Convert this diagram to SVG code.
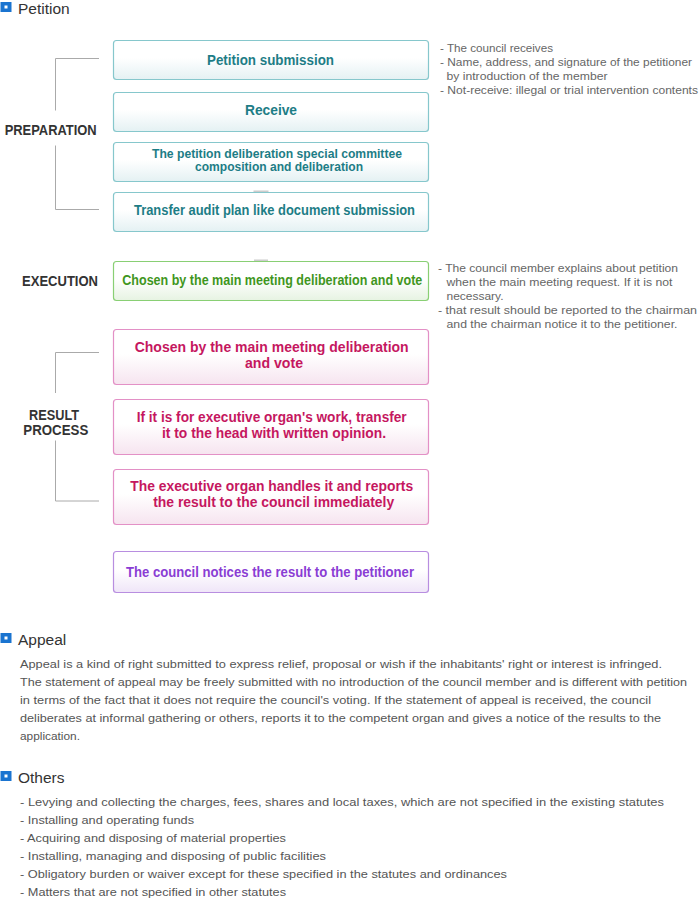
<svg xmlns="http://www.w3.org/2000/svg" width="700" height="900" viewBox="0 0 700 900">
<defs>
<linearGradient id="gT" x1="0" y1="0" x2="0" y2="1"><stop offset="0.45" stop-color="#ffffff"/><stop offset="1" stop-color="#e4f1f3"/></linearGradient>
<linearGradient id="gG" x1="0" y1="0" x2="0" y2="1"><stop offset="0.45" stop-color="#ffffff"/><stop offset="1" stop-color="#e6f3e2"/></linearGradient>
<linearGradient id="gP" x1="0" y1="0" x2="0" y2="1"><stop offset="0.45" stop-color="#ffffff"/><stop offset="1" stop-color="#f6e4ef"/></linearGradient>
<linearGradient id="gV" x1="0" y1="0" x2="0" y2="1"><stop offset="0.45" stop-color="#ffffff"/><stop offset="1" stop-color="#efe5f8"/></linearGradient>
</defs>
<style>
.box{stroke-width:1.2}
.teal{fill:url(#gT);stroke:#86c7cc}
.green{fill:url(#gG);stroke:#89cf74}
.pink{fill:url(#gP);stroke:#e390c6}
.violet{fill:url(#gV);stroke:#b88ee0}
.bt{font-family:"Liberation Sans",Arial,sans-serif;font-weight:bold;text-anchor:middle}
.tt{fill:#1d7d86;font-size:14px}
.gt{fill:#3f9621;font-size:14px}
.pt{fill:#c5175f;font-size:15px}
.vt{fill:#8a3dd4;font-size:15px}
.lab{font-family:"Liberation Sans",Arial,sans-serif;font-weight:bold;font-size:14px;fill:#333;text-anchor:middle}
.note{font-family:"Liberation Sans",Arial,sans-serif;font-size:11.5px;fill:#666}
.body{font-family:"Liberation Sans",Arial,sans-serif;font-size:11.5px;fill:#555}
.head{font-family:"Liberation Sans",Arial,sans-serif;font-size:15.5px;fill:#333}
.br{fill:none;stroke:#aaaaaa;stroke-width:1}
.tab{fill:#cccccc}
.ico{fill:#1a74d0}
.icw{fill:#ffffff}
</style>

<g id="header-petition">
<rect class="ico" x="0.5" y="2" width="11" height="10"/>
<rect class="icw" x="4.5" y="5.5" width="3" height="3"/>
<text class="head" x="18" y="13.5">Petition</text>
</g>

<g id="connectors">
<polyline class="br" points="99,58.5 55.5,58.5 55.5,110.5"/>
<polyline class="br" points="55.5,145.5 55.5,209.5 99,209.5"/>
<polyline class="br" points="99,352.5 55.5,352.5 55.5,393"/>
<polyline class="br" points="55.5,440.5 55.5,501 99,501"/>
<rect class="tab" x="253.5" y="190.5" width="15" height="2"/>
<rect class="tab" x="254" y="259.5" width="14" height="2"/>
</g>

<g id="label-preparation"><text class="lab" x="50.7" y="134.5" textLength="92" lengthAdjust="spacingAndGlyphs">PREPARATION</text></g>
<g id="label-execution"><text class="lab" x="60" y="285.5" textLength="76" lengthAdjust="spacingAndGlyphs">EXECUTION</text></g>
<g id="label-result">
<text class="lab" x="54" y="420" textLength="50" lengthAdjust="spacingAndGlyphs">RESULT</text>
<text class="lab" x="55.8" y="435" textLength="65" lengthAdjust="spacingAndGlyphs">PROCESS</text>
</g>

<g id="node-petition-submission">
<rect class="box teal" x="113.5" y="40.5" width="315" height="39" rx="3"/>
<text class="bt tt" x="270.5" y="64.5" textLength="127" lengthAdjust="spacingAndGlyphs">Petition submission</text>
</g>
<g id="node-receive">
<rect class="box teal" x="113.5" y="92.5" width="315" height="39" rx="3"/>
<text class="bt tt" x="271" y="114.5" textLength="52" lengthAdjust="spacingAndGlyphs">Receive</text>
</g>
<g id="node-committee">
<rect class="box teal" x="113.5" y="142.5" width="315" height="39" rx="3"/>
<text class="bt tt" style="font-size:13px" x="277" y="157.5" textLength="250" lengthAdjust="spacingAndGlyphs">The petition deliberation special committee</text>
<text class="bt tt" style="font-size:13px" x="279" y="171" textLength="168" lengthAdjust="spacingAndGlyphs">composition and deliberation</text>
</g>
<g id="node-transfer-audit">
<rect class="box teal" x="113.5" y="192.5" width="315" height="39" rx="3"/>
<text class="bt tt" x="274.5" y="214.5" textLength="281" lengthAdjust="spacingAndGlyphs">Transfer audit plan like document submission</text>
</g>
<g id="notes-preparation">
<text class="note" x="440" y="52" textLength="113" lengthAdjust="spacingAndGlyphs">- The council receives</text>
<text class="note" x="440" y="66" textLength="252" lengthAdjust="spacingAndGlyphs">- Name, address, and signature of the petitioner</text>
<text class="note" x="446.5" y="80" textLength="161" lengthAdjust="spacingAndGlyphs">by introduction of the member</text>
<text class="note" x="440" y="94" textLength="258" lengthAdjust="spacingAndGlyphs">- Not-receive: illegal or trial intervention contents</text>
</g>

<g id="node-execution">
<rect class="box green" x="113.5" y="261.5" width="315" height="39" rx="3"/>
<text class="bt gt" x="272.3" y="284.5" textLength="300" lengthAdjust="spacingAndGlyphs">Chosen by the main meeting deliberation and vote</text>
</g>
<g id="notes-execution">
<text class="note" x="438" y="272" textLength="240" lengthAdjust="spacingAndGlyphs">- The council member explains about petition</text>
<text class="note" x="446.5" y="286" textLength="226" lengthAdjust="spacingAndGlyphs">when the main meeting request. If it is not</text>
<text class="note" x="446.5" y="300" textLength="57" lengthAdjust="spacingAndGlyphs">necessary.</text>
<text class="note" x="438" y="314" textLength="259" lengthAdjust="spacingAndGlyphs">- that result should be reported to the chairman</text>
<text class="note" x="446.5" y="328" textLength="231" lengthAdjust="spacingAndGlyphs">and the chairman notice it to the petitioner.</text>
</g>

<g id="node-result-vote">
<rect class="box pink" x="113.5" y="329.5" width="315" height="55" rx="3"/>
<text class="bt pt" x="271.7" y="351.5" textLength="274" lengthAdjust="spacingAndGlyphs">Chosen by the main meeting deliberation</text>
<text class="bt pt" x="274" y="367.5" textLength="58" lengthAdjust="spacingAndGlyphs">and vote</text>
</g>
<g id="node-result-transfer">
<rect class="box pink" x="113.5" y="399.5" width="315" height="55" rx="3"/>
<text class="bt pt" x="271.7" y="421.5" textLength="270" lengthAdjust="spacingAndGlyphs">If it is for executive organ's work, transfer</text>
<text class="bt pt" x="274" y="437.5" textLength="224" lengthAdjust="spacingAndGlyphs">it to the head with written opinion.</text>
</g>
<g id="node-result-handle">
<rect class="box pink" x="113.5" y="469.5" width="315" height="55" rx="3"/>
<text class="bt pt" x="271.7" y="490.5" textLength="283" lengthAdjust="spacingAndGlyphs">The executive organ handles it and reports</text>
<text class="bt pt" x="273.7" y="506.5" textLength="241" lengthAdjust="spacingAndGlyphs">the result to the council immediately</text>
</g>
<g id="node-notice">
<rect class="box violet" x="113.5" y="551.5" width="315" height="41" rx="3"/>
<text class="bt vt" x="270" y="577" textLength="288" lengthAdjust="spacingAndGlyphs">The council notices the result to the petitioner</text>
</g>

<g id="section-appeal">
<rect class="ico" x="0.5" y="633" width="11" height="10"/>
<rect class="icw" x="4.5" y="636.5" width="3" height="3"/>
<text class="head" x="18" y="644.5">Appeal</text>
<text class="body" x="20" y="667.5" textLength="642" lengthAdjust="spacingAndGlyphs">Appeal is a kind of right submitted to express relief, proposal or wish if the inhabitants' right or interest is infringed.</text>
<text class="body" x="20" y="685.5" textLength="667" lengthAdjust="spacingAndGlyphs">The statement of appeal may be freely submitted with no introduction of the council member and is different with petition</text>
<text class="body" x="20" y="703.5" textLength="631" lengthAdjust="spacingAndGlyphs">in terms of the fact that it does not require the council's voting. If the statement of appeal is received, the council</text>
<text class="body" x="20" y="721.5" textLength="641" lengthAdjust="spacingAndGlyphs">deliberates at informal gathering or others, reports it to the competent organ and gives a notice of the results to the</text>
<text class="body" x="20" y="739.5" textLength="60" lengthAdjust="spacingAndGlyphs">application.</text>
</g>

<g id="section-others">
<rect class="ico" x="0.5" y="771" width="11" height="10"/>
<rect class="icw" x="4.5" y="774.5" width="3" height="3"/>
<text class="head" x="18" y="782.5">Others</text>
<text class="body" x="20" y="805.5" textLength="644" lengthAdjust="spacingAndGlyphs">- Levying and collecting the charges, fees, shares and local taxes, which are not specified in the existing statutes</text>
<text class="body" x="20" y="823.5" textLength="174" lengthAdjust="spacingAndGlyphs">- Installing and operating funds</text>
<text class="body" x="20" y="841.5" textLength="266" lengthAdjust="spacingAndGlyphs">- Acquiring and disposing of material properties</text>
<text class="body" x="20" y="859.5" textLength="306" lengthAdjust="spacingAndGlyphs">- Installing, managing and disposing of public facilities</text>
<text class="body" x="20" y="877.5" textLength="487" lengthAdjust="spacingAndGlyphs">- Obligatory burden or waiver except for these specified in the statutes and ordinances</text>
<text class="body" x="20" y="895.5" textLength="266" lengthAdjust="spacingAndGlyphs">- Matters that are not specified in other statutes</text>
</g>
</svg>
